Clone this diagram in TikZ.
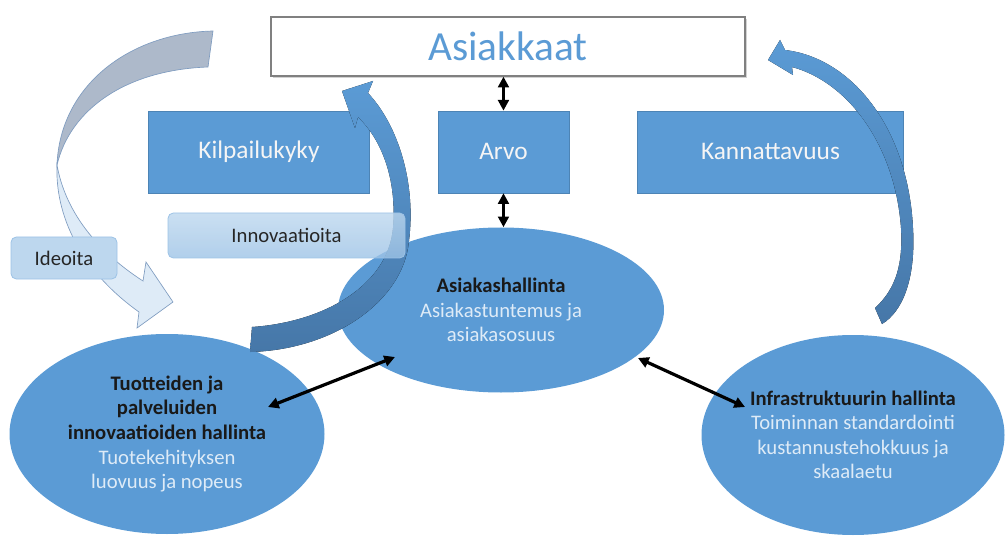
\documentclass[tikz,border=0pt]{standalone}
\usepackage{fontspec}
\setmainfont{Carlito}
\usepackage{tikz}
\usetikzlibrary{shapes.geometric, arrows.meta, shadows, positioning}

\definecolor{boxblue}{HTML}{5B9BD5}
\definecolor{deepblue}{HTML}{4677A8}
\definecolor{paleblue}{HTML}{DEEBF7}
\definecolor{lightblue}{HTML}{BDD7EE}
\definecolor{midblue}{HTML}{9DC3E6}
\definecolor{greyblue}{HTML}{ADB9CA}
\definecolor{edgeblue}{HTML}{7F9CC0}

\tikzstyle{customer} = [rectangle, minimum width=355.5pt, minimum height=44.25pt, text centered, draw=gray, line width=1pt, fill=white, drop shadow={shadow xshift=1.2pt, shadow yshift=-1.2pt, fill=gray!70}, text=boxblue, font=\fontsize{31}{36}\selectfont]
\tikzstyle{goal} = [rectangle, minimum height=61.5pt, text centered, draw=boxblue!85!black, line width=0.4pt, fill=boxblue, text=white!96!black, font=\fontsize{19}{23}\selectfont]
\tikzstyle{area} = [ellipse, fill=boxblue, inner sep=0pt, align=center, text=paleblue, font=\fontsize{15.5}{18.4}\selectfont]
\tikzstyle{tag} = [rectangle, rounded corners=4pt, draw=midblue, line width=0.6pt, text=black!85, text centered, font=\fontsize{15.5}{18.4}\selectfont]
\tikzstyle{dblarrow} = [line width=2.4pt, {Triangle[length=8pt,width=8pt]}-{Triangle[length=8pt,width=8pt]}]
\tikzstyle{band} = [draw=edgeblue, line width=0.5pt]
\tikzstyle{bluebend} = [top color=boxblue, middle color=boxblue, bottom color=deepblue, draw=none]

\begin{document}
\begin{tikzpicture}[x=0.75pt, y=-0.75pt]
    \useasboundingbox (0,0) rectangle (1006,538);

    % Ideas arrow
    \draw [band, fill=greyblue] (213,31) .. controls (130,33) and (60,85) .. (57,165) .. controls (70,110) and (125,70) .. (208,67) -- cycle;
    \draw [band, fill=paleblue] (57,165) .. controls (55,215) and (80,270) .. (139,312) -- (137,328) -- (173,302) -- (146,262) -- (143,281) .. controls (95,250) and (65,210) .. (57,165) -- cycle;

    % Nodes
    \node (asiakkaat) [customer] at (508,46.5) {Asiakkaat};
    \node (arvo) [goal, minimum width=98.25pt, below=25.5pt of asiakkaat, xshift=-3.4pt] {Arvo};
    \node (kilpailu) [goal, minimum width=165.75pt, left=51pt of arvo] {Kilpailukyky};
    \node (kannatt) [goal, minimum width=199.5pt, right=51pt of arvo] {Kannattavuus};

    \node (asiakas) [area, minimum width=244.5pt, minimum height=123.75pt] at (501,310) {{\color{black!90}\bfseries Asiakashallinta}\\Asiakastuntemus ja\\asiakasosuus};
    \node (tuote) [area, minimum width=236.25pt, minimum height=150pt] at (167,434) {{\color{black!90}\bfseries Tuotteiden ja}\\{\color{black!90}\bfseries palveluiden}\\{\color{black!90}\bfseries innovaatioiden hallinta}\\Tuotekehityksen\\luovuus ja nopeus};
    \node (infra) [area, minimum width=227.25pt, minimum height=150pt] at (853,435) {{\color{black!90}\bfseries Infrastruktuurin hallinta}\\Toiminnan standardointi\\kustannustehokkuus ja\\skaalaetu};

    % Profit arrow
    \fill [bluebend] (875,308) .. controls (897,288) and (903,262) .. (901,228) .. controls (895,145) and (848,82) .. (792,67) -- (793,75) -- (768,60) -- (780,40) -- (785,50) .. controls (852,58) and (908,128) .. (913,228) .. controls (916,280) and (902,312) .. (882,324) -- cycle;

    % Innovation arrow
    \fill [bluebend] (252,327) .. controls (325,322) and (388,285) .. (393,228) .. controls (397,180) and (382,140) .. (358,117) -- (355,128) -- (342,91) -- (373,81) -- (368,93) .. controls (398,125) and (418,185) .. (408,248) .. controls (398,305) and (330,350) .. (250,352) -- cycle;

    \node (innov) [tag, minimum width=177.75pt, minimum height=33.75pt, top color=lightblue, bottom color=midblue, fill opacity=0.8, text opacity=1] at (286.5,235.5) {Innovaatioita};
    \node (ideoita) [tag, minimum width=79.5pt, minimum height=31.5pt, fill=lightblue] at (64,258) {Ideoita};

    % Arrows
    \draw [dblarrow] (arvo.north) -- (arvo.north |- asiakkaat.south);
    \draw [dblarrow] (arvo.south) -- (arvo.south |- asiakas.north);
    \draw [dblarrow] ([shift={(101,-27)}]tuote.center) -- ([shift={(-106,47)}]asiakas.center);
    \draw [dblarrow] ([shift={(137,48)}]asiakas.center) -- ([shift={(-108,-28)}]infra.center);

\end{tikzpicture}
\end{document}
